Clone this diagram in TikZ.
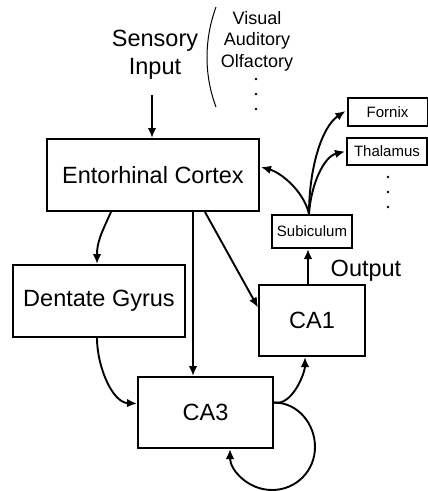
\documentclass[tikz,border=0pt]{standalone}
\usepackage{fontspec}
\setmainfont{Liberation Sans}
\usetikzlibrary{arrows.meta,calc}
\begin{document}
\begin{tikzpicture}[x=1pt,y=-1pt,
  box/.style={draw,line width=2pt,inner sep=0pt,font=\fontsize{23.5}{28}\selectfont},
  sbox/.style={draw,line width=2pt,inner sep=0pt,font=\fontsize{15}{18}\selectfont},
  arr/.style={line width=1.9pt,-{Latex[length=10pt,width=8.5pt]}},
  big/.style={font=\fontsize{23.5}{28}\selectfont,align=center,inner sep=0pt},
  mid/.style={font=\fontsize{18}{21.5}\selectfont,align=center,inner sep=0pt},
  dot/.style={fill,circle,inner sep=0pt,minimum size=2.8pt}]
\useasboundingbox (0,0) rectangle (428,491);
% boxes
\node[box,minimum width=212pt,minimum height=72pt] (ec) at (153,175) {Entorhinal Cortex};
\node[box,minimum width=172pt,minimum height=72pt] (dg) at (99,301) {Dentate Gyrus};
\node[box,minimum width=106pt,minimum height=71pt] (ca1) at (312,320.5) {CA1};
\node[box,minimum width=135pt,minimum height=71pt] (ca3) at (205.5,412.5) {CA3};
\node[sbox,minimum width=80pt,minimum height=33pt] (sub) at (312,231.5) {Subiculum};
\node[sbox,minimum width=80pt,minimum height=28pt] (fx) at (387.5,112) {Fornix};
\node[sbox,minimum width=80pt,minimum height=27pt] (th) at (387,151.5) {Thalamus};
% texts
\node[big] (si) at (155,55) {Sensory\\Input};
\node[mid] (vis) at (257,41) {Visual\\Auditory\\Olfactory};
\node[big] (out) at (366,271) {Output};
\draw[line width=1pt] (216,7) .. controls (204,40) and (204,75) .. (216,107);
\node[dot] (d1) at (256,79) {};
\node[dot] (d2) at (256,94) {};
\node[dot] (d3) at (256,109) {};
\node[dot] (t1) at (388,177) {};
\node[dot] (t2) at (388,192) {};
\node[dot] (t3) at (388,207) {};
% arrows
\coordinate (siin) at (152,95);
\draw[arr] (siin) -- (siin |- ec.north);
\draw[arr] ($(ec.south)+(-42,0)$) .. controls ($(ec.south)+(-52,22)$) and ($(dg.north)+(-2,-22)$) .. ($(dg.north)+(-2,0)$);
\draw[arr] ($(ec.south)+(40,0)$) -- ($(ca3.north)+(-12.5,0)$);
\draw[arr] ($(ec.south)+(52,0)$) -- ($(ca1.west)+(0,-13)$);
\draw[arr] ($(dg.south)+(-2,0)$) .. controls ($(dg.south)+(-2,28)$) and ($(ca3.west)+(-25,-10)$) .. ($(ca3.west)+(0,-9)$);
\draw[arr] ($(ca3.east)+(0,-10)$) .. controls ($(ca3.east)+(18,-6)$) and ($(ca1.south)+(-7,16)$) .. ($(ca1.south)+(-7,0)$);
\draw[arr] ($(ca3.east)+(0,-10)$) .. controls ($(ca3.east)+(24,-10)$) and (315,424) .. (315,447)
   .. controls (315,471) and (296,490) .. (272,490)
   .. controls (248,490) and (230,470) .. ($(ca3.south)+(24.5,0)$);
\draw[arr] ($(ca1.north)+(-4,0)$) -- ($(sub.south)+(-4,0)$);
\coordinate (st) at ($(sub.north)+(-3,0)$);
\draw[arr] (st) .. controls ($(st)+(-5,-22)$) and ($(ec.east)+(22,-2)$) .. ($(ec.east)+(1,-8)$);
\draw[arr] (st) .. controls ($(st)+(0,-45)$) and ($(fx.west)+(-25,15)$) .. ($(fx.west)+(-1,-1)$);
\draw[arr] (st) .. controls ($(st)+(2,-30)$) and ($(th.west)+(-22,5)$) .. ($(th.west)+(-1,0)$);
\end{tikzpicture}
\end{document}
